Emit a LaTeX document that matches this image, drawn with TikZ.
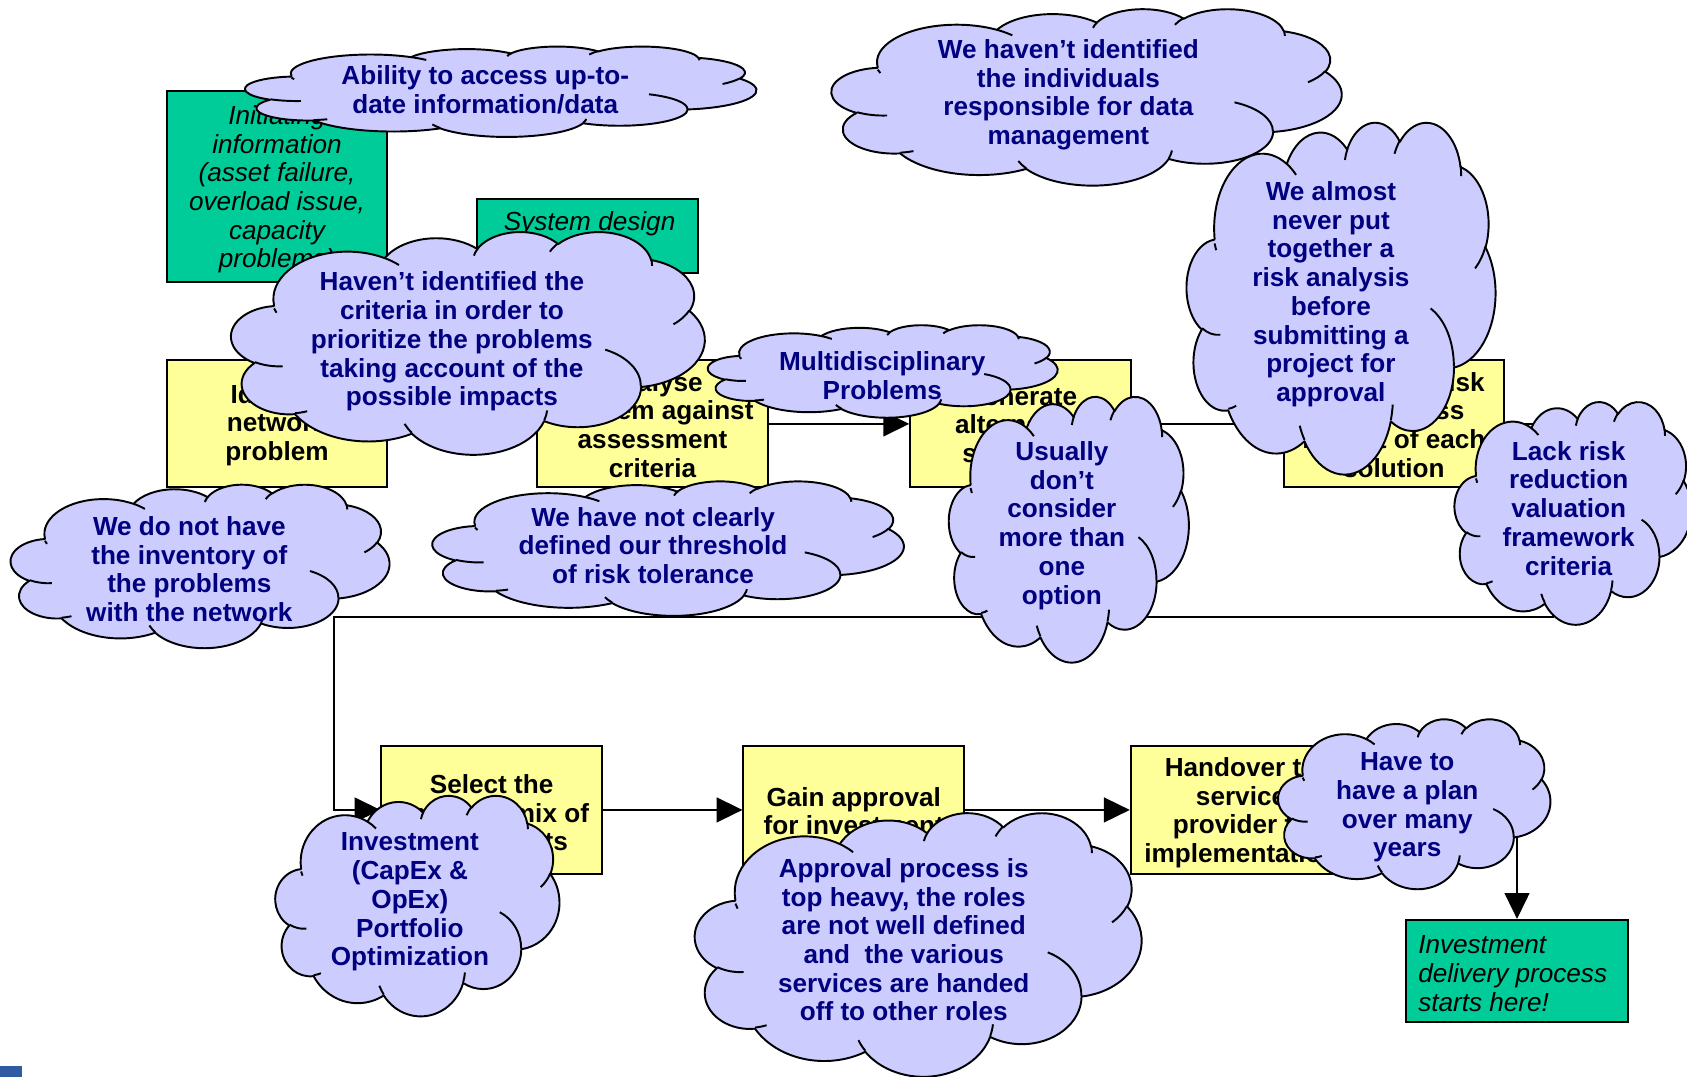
\documentclass[tikz,border=0pt]{standalone}
\usepackage{fontspec}
\setmainfont{Liberation Sans}
\usetikzlibrary{arrows.meta}
\definecolor{cloudfill}{RGB}{204,204,255}
\definecolor{cloudtext}{RGB}{0,0,128}
\definecolor{boxyellow}{RGB}{255,255,153}
\definecolor{boxgreen}{RGB}{0,204,153}
\definecolor{scrap}{RGB}{50,90,160}

% arc in OOXML convention (visual angles, y down)
\newcommand\ooarc[4]{%
  \pgfmathsetmacro\oots{atan2((#1)*sin(#3),(#2)*cos(#3))}%
  \pgfmathsetmacro\ooe{(#3)+(#4)}%
  \pgfmathsetmacro\oote{atan2((#1)*sin(\ooe),(#2)*cos(\ooe))}%
  \pgfmathsetmacro\ood{\oote-\oots}%
  \pgfmathsetmacro\ood{ifthenelse(\ood<0,\ood+360,\ood)}%
  \pgfmathsetmacro\ooend{\oots+\ood}%
  \pgfpatharc{\oots}{\ooend}{#1pt and #2pt}%
}
\newcommand\ppcloudouter{%
  \pgfpathmoveto{\pgfpoint{390pt}{1437pt}}%
  \ooarc{675.3}{919.0}{-190.4875}{123.7805}%
  \ooarc{533.3}{726.7}{-144.1024}{89.9452}%
  \ooarc{436.5}{594.5}{-145.8079}{99.7230}%
  \ooarc{485.7}{659.5}{-130.9861}{117.2417}%
  \ooarc{533.3}{727.3}{-78.7089}{109.0269}%
  \ooarc{677.5}{922.0}{-46.2673}{130.2690}%
  \ooarc{578.5}{786.7}{0.6250}{114.0333}%
  \ooarc{675.2}{921.5}{22.4516}{115.1726}%
  \ooarc{772.0}{1054.3}{66.2426}{75.7110}%
  \ooarc{436.0}{591.8}{-274.9421}{146.7356}%
  \ooarc{434.5}{594.5}{-246.8285}{152.5189}%
  \pgfpathclose}
\newcommand\ppcloudinner{%
  \pgfpathmoveto{\pgfpoint{469.3pt}{2617.7pt}}\ooarc{434.5}{594.5}{86.7420}{26.4295}%
  \pgfpathmoveto{\pgfpoint{692.8pt}{3489.9pt}}\ooarc{436.0}{591.8}{73.6105}{11.4475}%
  \pgfpathmoveto{\pgfpoint{1647.8pt}{3909.0pt}}\ooarc{675.2}{921.5}{137.6242}{14.0811}%
  \pgfpathmoveto{\pgfpoint{2882.7pt}{3475.1pt}}\ooarc{675.2}{921.5}{6.4533}{15.9984}%
  \pgfpathmoveto{\pgfpoint{3412.9pt}{2295.4pt}}\ooarc{578.5}{786.7}{-70.2924}{70.9174}%
  \pgfpathmoveto{\pgfpoint{4179.8pt}{1535.4pt}}\ooarc{533.3}{727.3}{30.3180}{27.7515}%
  \pgfpathmoveto{\pgfpoint{3832.4pt}{542.6pt}}\ooarc{485.7}{659.5}{-13.7443}{14.8589}%
  \pgfpathmoveto{\pgfpoint{2907.8pt}{395.2pt}}\ooarc{485.7}{659.5}{-149.1815}{18.1954}%
  \pgfpathmoveto{\pgfpoint{2214.1pt}{472.0pt}}\ooarc{436.5}{594.5}{-163.4943}{17.6864}%
  \pgfpathmoveto{\pgfpoint{1400.0pt}{519.2pt}}\ooarc{675.3}{919.0}{-66.7070}{12.3194}%
  \pgfpathmoveto{\pgfpoint{412.7pt}{1578.9pt}}\ooarc{675.3}{919.0}{150.0}{6.7519}%
}
% cloud: x0 y0 w h
\newcommand\ppcloud[4]{%
  \begin{scope}[shift={(#1,#2)},xscale=#3/4320,yscale=-#4/4320]
    \pgfsetfillcolor{cloudfill}\pgfsetstrokecolor{black}\pgfsetlinewidth{1.8pt}\pgfsetroundjoin
    \ppcloudouter\pgfusepath{fill,stroke}
    \ppcloudinner\pgfusepath{stroke}
  \end{scope}}

\tikzset{
  ybox/.style={draw=black, line width=1.8pt, fill=boxyellow, minimum width=205pt, minimum height=118pt, inner sep=0pt},
  gbox/.style={draw=black, line width=1.8pt, fill=boxgreen, inner sep=0pt},
  btext/.style={align=center, inner sep=0pt, font=\bfseries\fontsize{24.3}{26.7}\selectfont},
  gtext/.style={inner sep=0pt, font=\itshape\fontsize{24.3}{26.7}\selectfont},
  ctext/.style={align=center, inner sep=0pt, text=cloudtext, font=\bfseries\fontsize{24.3}{26.7}\selectfont},
  conn/.style={line width=1.8pt, draw=black, -{Triangle[length=24pt,width=23pt]}},
}

\begin{document}
\begin{tikzpicture}[x=1pt,y=-1pt]
\useasboundingbox (0,0) rectangle (1568,1001);
\fill[white] (0,0) rectangle (1568,1001);
\fill[scrap] (0,991) rectangle (20,1001);

% green boxes
\node[gbox, minimum width=205pt, minimum height=177pt] (init) at (257.5,173.5) {};
\node[gtext, align=center] (initt) at (257.5,176)
  {Initiating\\information\\(asset failure,\\overload issue,\\capacity\\problems)};
\node[gbox, minimum width=206pt, minimum height=69pt] (sysd) at (546,219.5) {};
\node[gtext] (sysdt) at (548,208) {System design};
\node[gbox, minimum width=206pt, minimum height=95pt] (start) at (1410,902.5) {};
\node[gtext, align=left, anchor=west] (startt) at (1318,905)
  {Investment\\delivery process\\starts here!};

% yellow boxes
\node[ybox] (A) at (257.5,394) {};
\node[btext] (At) at (257.5,395) {Identify\\network\\problem};
\node[ybox, minimum width=215pt] (B) at (606.5,394) {};
\node[btext] (Bt) at (606.5,395) {Analyse\\problem against\\assessment\\criteria};
\node[ybox] (C) at (948.5,394) {};
\node[btext] (Ct) at (948.5,395) {Generate\\alternative\\solutions};
\node[ybox] (D) at (1295.5,394) {};
\node[btext] (Dt) at (1295.5,395) {Determine risk\\and assess\\impact of each\\solution};
\node[ybox, minimum height=119pt] (E) at (457,752.8) {};
\node[btext] (Et) at (457,755.5) {Select the\\optimum mix of\\investments};
\node[ybox, minimum height=119pt] (F) at (793.5,752.8) {};
\node[btext] (Ft) at (793.5,754) {Gain approval\\for investment};
\node[ybox, minimum height=119pt] (G) at (1153.5,752.8) {};
\node[btext] (Gt) at (1153.5,755.5) {Handover to\\service\\provider to\\implementation};

% connectors
\coordinate (r1) at (1443,394);
\coordinate (r2) at (1443,573.5);
\coordinate (l1) at (310.4,573.5);
\coordinate (l2) at (310.4,752.8);
\coordinate (g1) at (1410,752.8);
\draw[conn] (A) -- (B);
\draw[conn] (B) -- (C);
\draw[conn] (C) -- (D);
\draw[conn] (D.east) -- (r1) -- (r2) -- (l1) -- (l2) -- (E.west);
\draw[conn] (E) -- (F);
\draw[conn] (F) -- (G);
\draw[conn] (G.east) -- (g1) -- (start.north);

% clouds
\ppcloud{228}{43}{475}{84}
\node[ctext] (c1) at (451,83.5) {Ability to access up-to-\\date information/data};
\ppcloud{215}{215}{440}{207}
\node[ctext] (c3) at (420,317.5) {Haven’t identified the\\criteria in order to\\prioritize the problems\\taking account of the\\possible impacts};
\ppcloud{773}{8}{474}{164}
\node[ctext] (c2) at (993,88) {We haven’t identified\\the individuals\\responsible for data\\management};
\ppcloud{1103}{113}{287}{327}
\node[ctext] (c4) at (1237,273.5) {We almost\\never put\\together a\\risk analysis\\before\\submitting a\\project for\\approval};
\ppcloud{658}{302}{325}{86}
\node[ctext] (c5) at (820,349) {Multidisciplinary\\Problems};
\ppcloud{882}{368}{223}{247}
\node[ctext] (c6) at (987,488.5) {Usually\\don’t\\consider\\more than\\one\\option};
\ppcloud{1352}{373}{220}{207}
\node[ctext] (c7) at (1458,472.5) {Lack risk\\reduction\\valuation\\framework\\criteria};
\ppcloud{10}{450}{352}{152}
\node[ctext] (c8) at (176,529) {We do not have\\the inventory of\\the problems\\with the network};
\ppcloud{402}{447}{438}{125}
\node[ctext] (c9) at (607,507) {We have not clearly\\defined our threshold\\of risk tolerance};
\ppcloud{256}{739}{264}{205}
\node[ctext] (c10) at (381,838.5) {Investment\\(CapEx \&\\OpEx)\\Portfolio\\Optimization};
\ppcloud{646}{755}{415}{245}
\node[ctext] (c11) at (840,873.5) {Approval process is\\top heavy, the roles\\are not well defined\\and~ the various\\services are handed\\off to other roles};
\ppcloud{1188}{668}{253}{158}
\node[ctext] (c12) at (1308,750.5) {Have to\\have a plan\\over many\\years};
\end{tikzpicture}
\end{document}
